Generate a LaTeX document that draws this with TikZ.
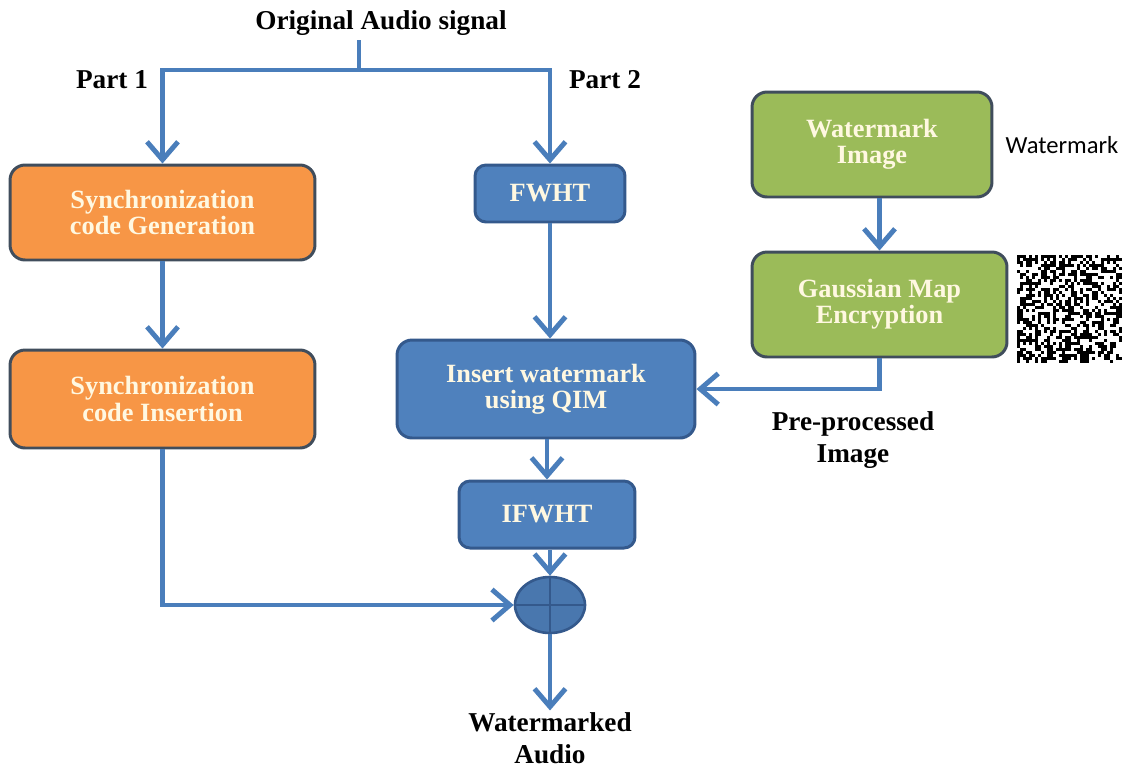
\documentclass[tikz,border=0pt]{standalone}
\usepackage{fontspec}
\setmainfont{Liberation Serif}
\newfontfamily\wmfont{Carlito}
\usepackage{xcolor}
\usepackage{tikz}
\usetikzlibrary{arrows.meta}
\usetikzlibrary{shapes.geometric}

\definecolor{lineblue}{HTML}{4A7EBB}
\definecolor{orangefill}{HTML}{F79646}
\definecolor{bluefill}{HTML}{4F81BD}
\definecolor{greenfill}{HTML}{9BBB59}
\definecolor{darkedge}{HTML}{404D5C}
\definecolor{blueedge}{HTML}{34598C}
\definecolor{boxtext}{HTML}{FFF8E1}

\begin{document}
\begin{tikzpicture}[x=0.02cm,y=-0.02cm,
  every node/.style={font=\fontsize{15}{15}\selectfont\bfseries},
  block/.style={rectangle,rounded corners=0.3cm,line width=1.7pt,align=center,text=boxtext,inner sep=0pt},
  orangebox/.style={block,fill=orangefill,draw=darkedge},
  greenbox/.style={block,fill=greenfill,draw=darkedge},
  bluebox/.style={block,fill=bluefill,draw=blueedge},
  plain/.style={align=center,font=\fontsize{15.5}{18}\selectfont\bfseries},
  wire/.style={draw=lineblue,line width=2.8pt},
  flow/.style={wire,-{Straight Barb[length=0.36cm,width=0.62cm,line width=2.8pt]}}]
\path[use as bounding box,fill=white] (0,0) rectangle (1123,769);

% labels
\node[plain] (title) at (381,23) {Original Audio signal};
\node[plain] (part1) at (112,80) {Part 1};
\node[plain] (part2) at (605,80) {Part 2};
\coordinate (stemtop) at (359,40);
\coordinate (split) at (359,70);

% part 1
\node[orangebox,minimum width=6.1cm,minimum height=1.9cm] (gen) at (162.5,212.5) {Synchronization\\code Generation};
\node[orangebox,minimum width=6.1cm,minimum height=1.96cm] (ins) at (162.5,399) {Synchronization\\code Insertion};

% part 2
\node[bluebox,rounded corners=0.22cm,minimum width=3cm,minimum height=1.14cm] (fwht) at (550,193.5) {FWHT};
\node[bluebox,minimum width=5.96cm,minimum height=1.96cm] (qim) at (546,389) {Insert watermark\\using QIM};
\node[bluebox,rounded corners=0.22cm,minimum width=3.52cm,minimum height=1.34cm] (ifwht) at (547,514.5) {IFWHT};
\node[ellipse,fill=bluefill!92!black,draw=blueedge,line width=1.5pt,minimum width=1.4cm,minimum height=1.12cm] (sum) at (550,605) {};
\draw[blueedge,line width=1.5pt] (sum.north) -- (sum.south) (sum.west) -- (sum.east);
\node[plain,inner sep=1pt] (wmaudio) at (550,738) {Watermarked\\Audio};

% watermark branch
\node[greenbox,minimum width=4.8cm,minimum height=2.1cm] (wmimg) at (872,144.5) {Watermark\\Image};
\node[greenbox,minimum width=5.1cm,minimum height=2.1cm] (gauss) at (879.5,304.5) {Gaussian Map\\Encryption};
\node[font=\wmfont\fontsize{14}{15}\selectfont] (wmlabel) at (1062,145) {Watermark};
\node[plain] (preimg) at (853,440) {Pre-processed\\Image};

% scrambled image
\pgfmathsetseed{42}
\foreach \i in {0,...,34}
  \foreach \j in {0,...,35}{
    \pgfmathsetmacro\r{rnd}
    \ifdim\r pt<0.5pt \fill[black] (1017+3*\i,255+3*\j) rectangle ++(3,3); \fi
  }

% connectors
\draw[wire] (stemtop) -- (split);
\draw[flow] (split) -| (gen.north);
\draw[flow] (split) -| (fwht.north);
\draw[flow] (gen.south) -- (ins.north);
\draw[flow] (ins.south) |- (sum.west);
\draw[flow] (fwht.south) -- (fwht.south |- qim.north);
\draw[flow] (qim.south -| ifwht.north) -- (ifwht.north);
\draw[flow] (ifwht.south -| sum.north) -- (sum.north);
\draw[flow] (sum.south) -- (wmaudio.north);
\draw[flow] (gauss.north |- wmimg.south) -- (gauss.north);
\draw[flow] (gauss.south) |- (qim.east);
\end{tikzpicture}
\end{document}
